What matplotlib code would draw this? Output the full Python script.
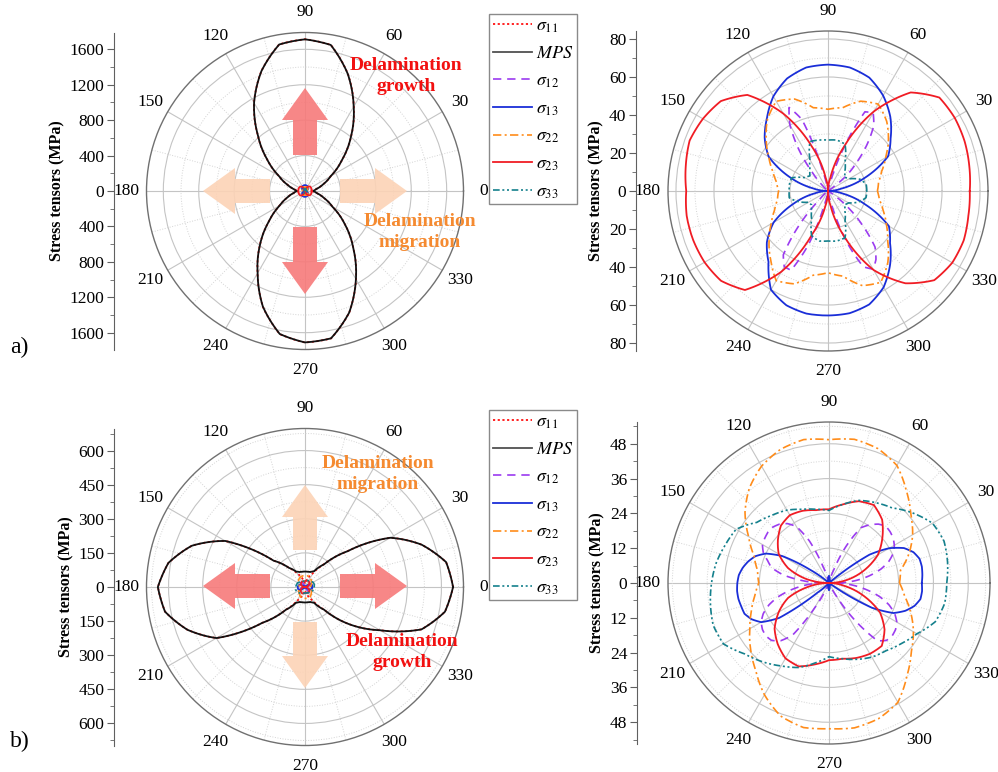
import numpy as np
import matplotlib
matplotlib.use('Agg')
import matplotlib.pyplot as plt
from matplotlib.patches import FancyArrow
from matplotlib.lines import Line2D
from matplotlib.ticker import MultipleLocator, FuncFormatter

plt.rcParams['font.family'] = 'Liberation Serif'
plt.rcParams['mathtext.fontset'] = 'stix'

W, H = 998, 772

# angles (deg) the values were read at
ang10 = np.arange(0, 360, 10)
ang5 = np.arange(0, 360, 5)

# ---- row a ----
mps_a = [90, 130, 215, 335, 545, 810, 1100, 1410, 1675, 1713,
         1680, 1440, 1150, 830, 560, 340, 215, 130,
         90, 130, 210, 330, 530, 790, 1070, 1390, 1640,
         1710, 1690, 1460, 1150, 850, 590, 360, 225, 135]
s11_a = [70, 128, 214, 336, 546, 812, 1102, 1412, 1676, 1714,
         1681, 1441, 1152, 832, 561, 341, 214, 128,
         70, 128, 209, 331, 531, 791, 1071, 1391, 1641,
         1711, 1691, 1461, 1151, 851, 591, 361, 224, 133]
s12_a = [0, 0, 0, 0, 0, 0, 0,
         1, 13, 21.5, 32, 42, 47.5, 46, 24, 4, 0, 0,
         0, 0, 1, 12, 40, 48.5, 40, 27, 13, 4, 0,
         0, 0, 0, 0, 0, 0, 0, 0, 0, 0, 0, 0, 0, 0, 0,
         2, 6, 24, 41, 46, 46, 30, 8, 1,
         0, 0, 0, 1,
         8, 28, 44, 47.5, 44, 38.5, 26, 15, 5,
         0, 0, 0, 0, 0, 0]
s13_a = [0, 7, 21, 36.5, 43, 51, 58, 63.5, 66, 66.5,
         66, 63, 57.5, 50, 43.5, 36, 21.5, 8,
         0, 7, 19, 33, 42, 48.7, 60, 64, 65.5,
         65.5, 65.3, 63.5, 58.5, 50.8, 42.6, 37, 21, 8]
s22_a = [26, 27, 30, 35, 41.5, 48, 52.8, 50.3, 44.5, 43,
         44.5, 51.5, 54.5, 49.5, 42.5, 36, 31, 27.5,
         26, 27, 30, 34.5, 40.5, 47, 54.5, 52, 45,
         43, 45.5, 53, 55.5, 49, 41, 35.5, 31, 27.5]
s23_a = [74.6, 75.5, 76.5, 77, 76.5, 67.7, 48.4, 25, 7, 0,
         7, 25, 47, 66, 73.6, 76, 77.5, 76,
         74.6, 75.5, 75.5, 75, 73.5, 68, 49, 24, 8,
         0, 8, 26, 48, 63.4, 73, 75.5, 76, 75]
s33_a = [20.4, 20.4, 18, 12.8, 11.2, 13.9, 17.9, 26.2, 27.2, 26.8,
         27.2, 27.7, 19, 14.7, 12.4, 14, 20.3, 20.6,
         20.4, 20.7, 16.4, 11.8, 11.3, 13.4, 17.2, 25.1, 26.7,
         26.3, 26.7, 26.2, 17.9, 13.9, 11.3, 12.5, 17, 20.3]

# ---- row b ----
mps_b = [651, 630, 545, 433, 245, 130, 80, 70, 68, 68,
         68, 70, 78, 110, 180, 405, 530, 610,
         647, 625, 550, 449, 245, 130, 80, 70, 68,
         68, 68, 70, 80, 130, 255, 380, 545, 625]
s11_b = [651, 630, 545, 433, 245, 130, 70, 45, 25, 15,
         25, 45, 70, 110, 180, 405, 530, 610,
         647, 625, 550, 449, 245, 130, 70, 45, 25,
         15, 25, 45, 70, 130, 255, 380, 545, 625]
s12_b = [3, 9, 14, 18.5, 22, 24.5, 26, 27, 27.5, 27.7,
         26.5, 24.5, 22, 14, 5, 1, 0, 0, 0, 0, 0,
         1, 6, 16, 22.5, 25, 26.5, 27.3, 27.4, 27, 26.5, 25, 22.5, 20.5, 16, 9, 3,
         8, 13, 18, 22, 25, 27, 28, 28.4, 28, 26, 22, 10, 2,
         0, 0, 0, 0, 0, 0, 0, 0, 0,
         1, 6, 16, 26, 28, 28.4, 28, 27, 25, 22, 18, 13, 8]
s13_b = [32, 32.3, 32.5, 32.3, 31, 28.5, 24, 17, 1,
         0.5, 0.5, 0.5, 0.5, 0.5, 0.5, 1, 1.5, 2,
         2.5, 2, 1.5, 1, 0.5, 0.5, 0.5, 0.5, 0.5, 0.5, 1,
         8, 18.5, 24, 27, 28.8, 30.2, 31.2, 31.6,
         31.8, 31.7, 31.3, 31, 29.5, 27, 21, 5, 1,
         0.5, 0.5, 0.5, 0.5, 0.5, 1, 1.5, 2,
         2.5, 2, 1.5, 1, 0.5, 0.5, 0.5, 0.5, 0.5, 0.5, 0.5,
         1, 17, 24.5, 28, 30.5, 32, 32.2]
s22_b = [24.3, 25, 29.3, 33.3, 36.8, 41.5, 46.8, 49.3, 50.3, 49.4,
         50.2, 49, 46.5, 42.7, 37.8, 32, 27.5, 25,
         24.2, 26, 28.5, 31.5, 35.3, 39.3, 44.5, 48.8, 50.6,
         50.2, 50.7, 49.8, 47.5, 41.8, 37, 33.6, 30, 26.5]
s23_b = [0, 6.5, 13, 19.5, 24, 28.5, 31, 30, 27.5, 25.4,
         25.5, 26.5, 27, 25.8, 23, 20, 15, 8,
         0, 7, 15, 20, 24.5, 27.5, 30, 30.6, 28.5,
         26.6, 26.5, 27.5, 28.2, 28.3, 25, 20.3, 12.5, 5]
s33_b = [40.6, 41.5, 42.2, 41.2, 37.6, 33.8, 32, 30.3, 27.5, 25,
         25.8, 27, 29, 30.5, 32.5, 37, 38.1, 39.5,
         40.5, 41.5, 42.5, 42, 38, 35.5, 33, 31, 28,
         25.4, 26.5, 28, 29.5, 30.5, 32.5, 35, 39, 40.5]

theta_labels = [str(a) for a in range(0, 360, 30)]
legend_keys = ['s11', 'mps', 's12', 's13', 's22', 's23', 's33']
legend_labels = [r'$\sigma_{11}$', r'$MPS$', r'$\sigma_{12}$', r'$\sigma_{13}$',
                 r'$\sigma_{22}$', r'$\sigma_{23}$', r'$\sigma_{33}$']

STYLE = {
    's11': dict(color='#ff1010', ls=(0, (1.2, 1.4)), lw=1.3),
    'mps': dict(color='#111111', ls='-', lw=1.3),
    's12': dict(color='#9b3bf0', ls=(0, (5, 3.5)), lw=1.2),
    's13': dict(color='#1a2ed8', ls='-', lw=1.3),
    's22': dict(color='#ff8c1a', ls=(0, (5, 2, 1.2, 2)), lw=1.2),
    's23': dict(color='#f01c24', ls='-', lw=1.3),
    's33': dict(color='#14808c', ls=(0, (4, 1.6, 1.2, 1.6, 1.2, 1.6)), lw=1.2),
}

fig = plt.figure(figsize=(W / 100, H / 100), dpi=100)


def polar_panel(cx, cy, R, rmax, step, series):
    ax = fig.add_axes([(cx - R) / W, 1 - (cy + R) / H, 2 * R / W, 2 * R / H],
                      projection='polar')
    for ang, vals, key in series:
        th = np.radians(np.append(ang, 360))
        r = np.append(vals, vals[0])
        ln, = ax.plot(th, r, **STYLE[key])
        # let the polar transform draw each segment as a curve, not a chord
        ln.get_path()._interpolation_steps = 16
    ax.set_ylim(0, rmax)
    ax.set_yticks(np.arange(step, rmax, step))
    ax.set_yticks(np.arange(step / 2, rmax, step), minor=True)
    ax.set_yticklabels([])
    ax.set_xticks(np.radians(np.arange(0, 360, 30)))
    ax.set_xticklabels(theta_labels)
    ax.set_xticks(np.radians(np.arange(15, 360, 30)), minor=True)
    ax.grid(which='major', color='#c4c4c4', lw=0.8, ls='-')
    ax.grid(which='minor', color='#d4d4d4', lw=0.7, ls=':')
    ax.spines['polar'].set_color('#707070')
    ax.spines['polar'].set_linewidth(1.0)
    ax.tick_params(axis='x', pad=4, labelsize=12.5)
    return ax


def radial_axis(x, cy, R, rmax, step):
    ax = fig.add_axes([x / W, 1 - (cy + R) / H, 0.001, 2 * R / H])
    ax.set_ylim(-rmax, rmax)
    ax.patch.set_visible(False)
    for s in ['right', 'top', 'bottom']:
        ax.spines[s].set_visible(False)
    ax.spines['left'].set_color('#606060')
    ax.set_xticks([])
    ax.yaxis.set_major_locator(MultipleLocator(step))
    ax.yaxis.set_minor_locator(MultipleLocator(step / 2))
    ax.yaxis.set_major_formatter(FuncFormatter(lambda v, p: f'{abs(v):g}'))
    ax.tick_params(axis='y', which='major', direction='out', length=5,
                   labelsize=12.5, color='#606060', pad=2)
    ax.tick_params(axis='y', which='minor', direction='out', length=3, color='#606060')
    ax.set_ylabel('Stress tensors (MPa)', fontweight='bold', fontsize=11.5, labelpad=3)
    return ax


def arrow(x0, y0, x1, y1, color):
    a = FancyArrow(x0 / 100, (H - y0) / 100, (x1 - x0) / 100, -(y1 - y0) / 100,
                   width=0.24, head_width=0.46, head_length=0.32,
                   length_includes_head=True, transform=fig.dpi_scale_trans,
                   facecolor=color, edgecolor='none', alpha=0.9, zorder=5)
    fig.add_artist(a)


small_a = [(ang5, s12_a, 's12'), (ang10, s13_a, 's13'), (ang10, s22_a, 's22'),
           (ang10, s23_a, 's23'), (ang10, s33_a, 's33')]
small_b = [(ang5, s12_b, 's12'), (ang5, s13_b, 's13'), (ang10, s22_b, 's22'),
           (ang10, s23_b, 's23'), (ang10, s33_b, 's33')]

# row a
polar_panel(305, 191, 158.5, 1790, 400,
            [(ang10, s11_a, 's11'), (ang10, mps_a, 'mps')] + small_a)
radial_axis(114, 191, 158.5, 1790, 400)
polar_panel(828, 191, 160, 84.2, 20, small_a)
radial_axis(636, 191, 160, 84.2, 20)

# row b
polar_panel(305, 587, 158.5, 697, 150,
            [(ang10, s11_b, 's11'), (ang10, mps_b, 'mps')] + small_b)
radial_axis(114, 587, 158.5, 697, 150)
polar_panel(829, 583, 161, 55.5, 12, small_b)
radial_axis(637, 583, 161, 55.5, 12)

RED_ARROW = '#f77a7a'
PEACH_ARROW = '#fcd3b6'
# row a arrows
arrow(305, 155, 305, 88, RED_ARROW)
arrow(305, 227, 305, 294, RED_ARROW)
arrow(340, 191, 407, 191, PEACH_ARROW)
arrow(270, 191, 203, 191, PEACH_ARROW)
# row b arrows
arrow(340, 586, 407, 586, RED_ARROW)
arrow(270, 586, 203, 586, RED_ARROW)
arrow(305, 550, 305, 485, PEACH_ARROW)
arrow(305, 622, 305, 688, PEACH_ARROW)

RED_TXT = '#f21010'
ORANGE_TXT = '#f58a30'
txt = dict(ha='center', va='center', fontweight='bold', fontsize=14, linespacing=1.25)
fig.text(406 / W, 1 - 76 / H, 'Delamination\ngrowth', color=RED_TXT, **txt)
fig.text(420 / W, 1 - 232 / H, 'Delamination\nmigration', color=ORANGE_TXT, **txt)
fig.text(378 / W, 1 - 474 / H, 'Delamination\nmigration', color=ORANGE_TXT, **txt)
fig.text(402 / W, 1 - 652 / H, 'Delamination\ngrowth', color=RED_TXT, **txt)

fig.text(10 / W, 1 - 347 / H, 'a)', fontsize=17, va='center')
fig.text(10 / W, 1 - 741 / H, 'b)', fontsize=17, va='center')

handles = [Line2D([], [], **STYLE[k]) for k in legend_keys]
handles[1].set_color('#505050')
for top in (14, 410):
    fig.legend(handles, legend_labels, loc='upper left',
               bbox_to_anchor=(489 / W, 1 - top / H), fontsize=13,
               handlelength=2.2, handletextpad=0.2, labelspacing=0.57,
               borderpad=0.2, borderaxespad=0, fancybox=False,
               edgecolor='#8a8a8a', framealpha=1)

fig.savefig('out.png', dpi=100)
